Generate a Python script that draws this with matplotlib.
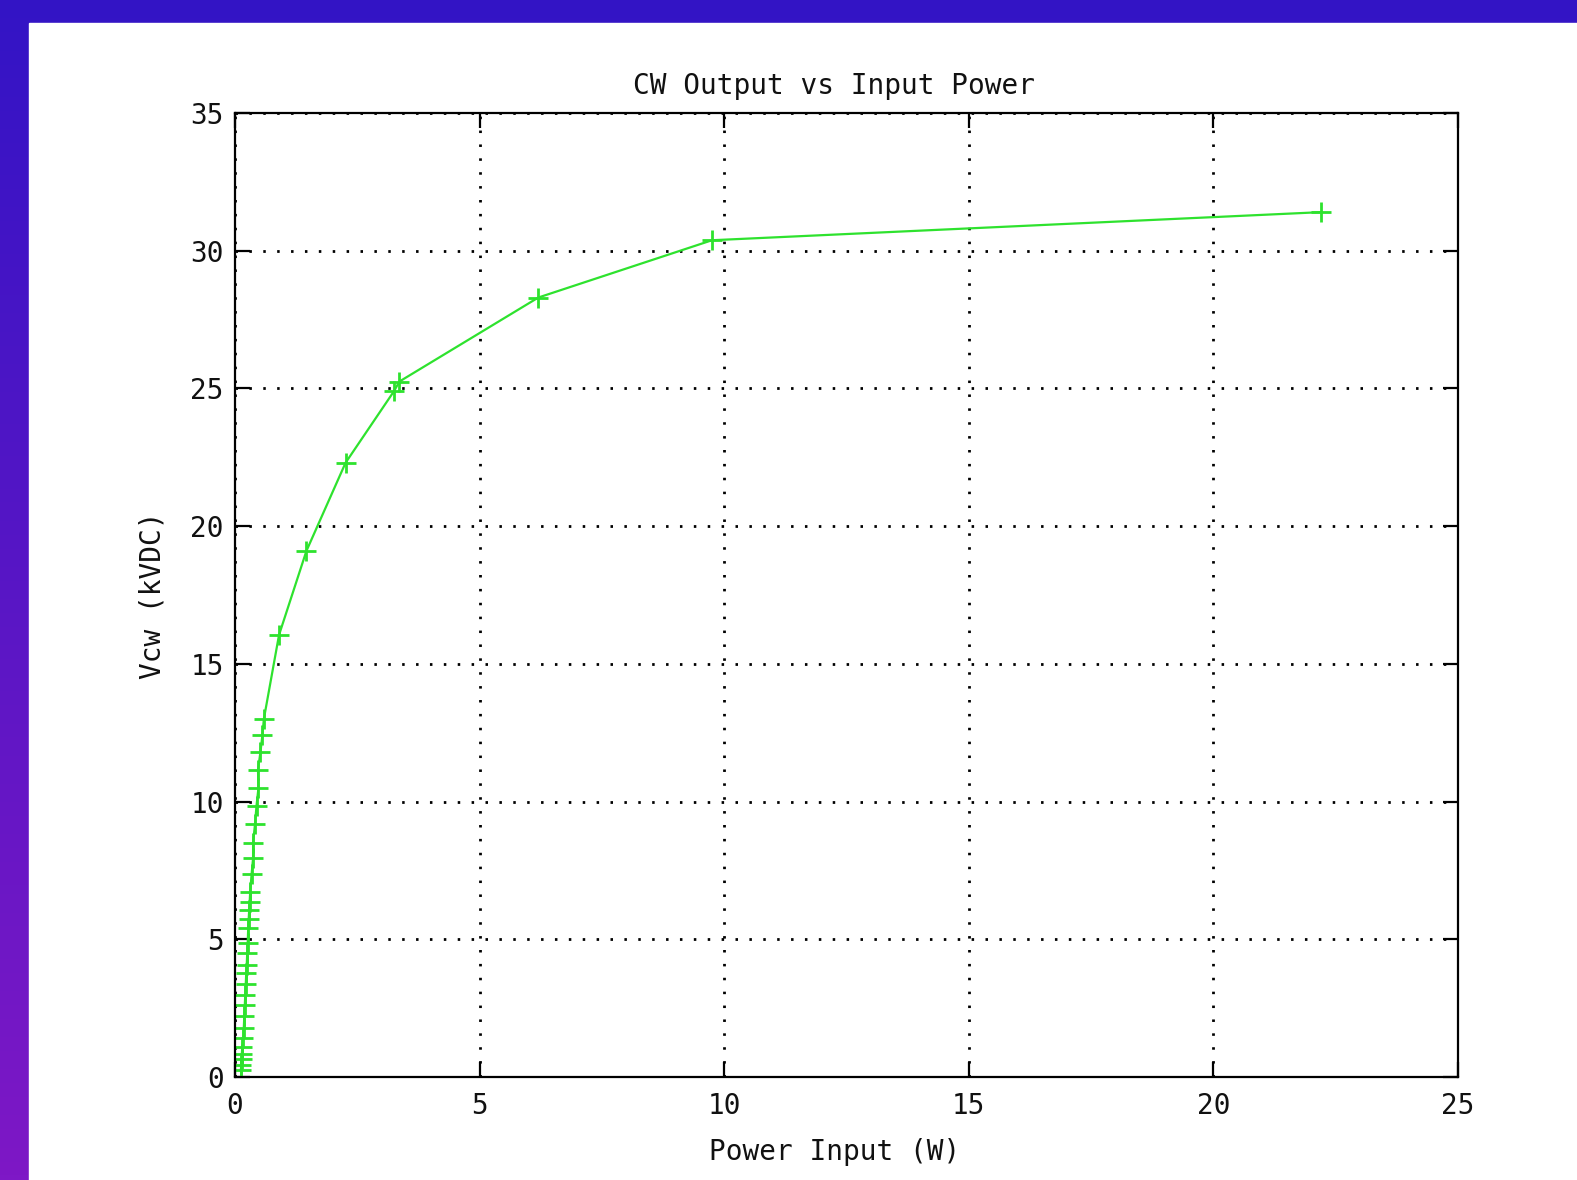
#!/usr/bin/env python3
import numpy as np
import matplotlib
matplotlib.use('Agg')
from matplotlib import pyplot as plt
from matplotlib.patches import Rectangle

# values
power_w = [0.12, 0.13, 0.14, 0.14, 0.15, 0.17, 0.18, 0.19, 0.20, 0.21,
           0.22, 0.23, 0.24, 0.25, 0.26, 0.27, 0.28, 0.29, 0.30, 0.31,
           0.34, 0.37, 0.37, 0.41, 0.44, 0.48, 0.47, 0.52, 0.56, 0.59,
           0.90, 1.46, 2.26, 3.25, 3.36, 6.20, 9.75, 22.20]
vcw_kv = [0.25, 0.45, 0.65, 0.85, 1.10, 1.42, 1.78, 2.20, 2.60, 2.98,
          3.38, 3.77, 4.07, 4.50, 4.87, 5.40, 5.73, 6.06, 6.36, 6.70,
          7.37, 7.95, 8.50, 9.20, 9.85, 10.50, 11.15, 11.80, 12.40, 13.00,
          16.05, 19.10, 22.30, 24.90, 25.25, 28.30, 30.38, 31.40]
xticks = [0, 5, 10, 15, 20, 25]
yticks = [0, 5, 10, 15, 20, 25, 30, 35]

W, H = 1577, 1180
fig = plt.figure(figsize=(W / 100, H / 100), dpi=100)

# purple gradient frame behind a white panel
bg = fig.add_axes([0, 0, 1, 1], zorder=-10)
grad = np.linspace(0, 1, 256).reshape(-1, 1)
top_c = np.array([0x33, 0x14, 0xc5]) / 255
bot_c = np.array([0x7e, 0x18, 0xc6]) / 255
img = top_c[None, None, :] * (1 - grad[:, :, None]) + bot_c[None, None, :] * grad[:, :, None]
bg.imshow(img, aspect='auto', extent=[0, 1, 0, 1], origin='upper')
bg.add_patch(Rectangle((29 / W, 0), 1, 1 - 23 / H, color='white'))
bg.set_xlim(0, 1)
bg.set_ylim(0, 1)
bg.axis('off')

font = 'DejaVu Sans Mono'
fs = 20

ax = fig.add_axes([235 / W, 1 - 1077 / H, (1458 - 235) / W, (1077 - 113) / H])
ax.plot(power_w, vcw_kv, color='#2ee22e', lw=1.6, marker='+', ms=14, mew=2)

ax.set_xlim(0, 25)
ax.set_ylim(0, 35)
ax.set_xticks(xticks)
ax.set_yticks(yticks)
ax.set_xticklabels([str(t) for t in xticks], family=font, fontsize=fs)
ax.set_yticklabels([str(t) for t in yticks], family=font, fontsize=fs)
ax.tick_params(direction='in', length=11, width=1.6, top=True, right=True,
               color='black', labelcolor='#111111')
ax.tick_params(axis='x', pad=11)
ax.tick_params(axis='y', pad=8)
for s in ax.spines.values():
    s.set_linewidth(1.6)

ax.grid(True, color='black', linestyle=(0, (0.9, 4.1)), linewidth=2)

ax.text(0.49, 1 + 27 / 964, 'CW Output vs Input Power', transform=ax.transAxes,
        ha='center', va='center', family=font, fontsize=fs, color='#111111')
ax.set_xlabel('Power Input (W)', family=font, fontsize=fs, color='#111111')
ax.set_ylabel('Vcw (kVDC)', family=font, fontsize=fs, color='#111111')
ax.xaxis.set_label_coords(0.49, -75 / 964)
ax.yaxis.set_label_coords(-82 / 1223, 0.5)
ax.xaxis.label.set_va('center')
ax.yaxis.label.set_va('center')

fig.savefig('out.png', dpi=100)
